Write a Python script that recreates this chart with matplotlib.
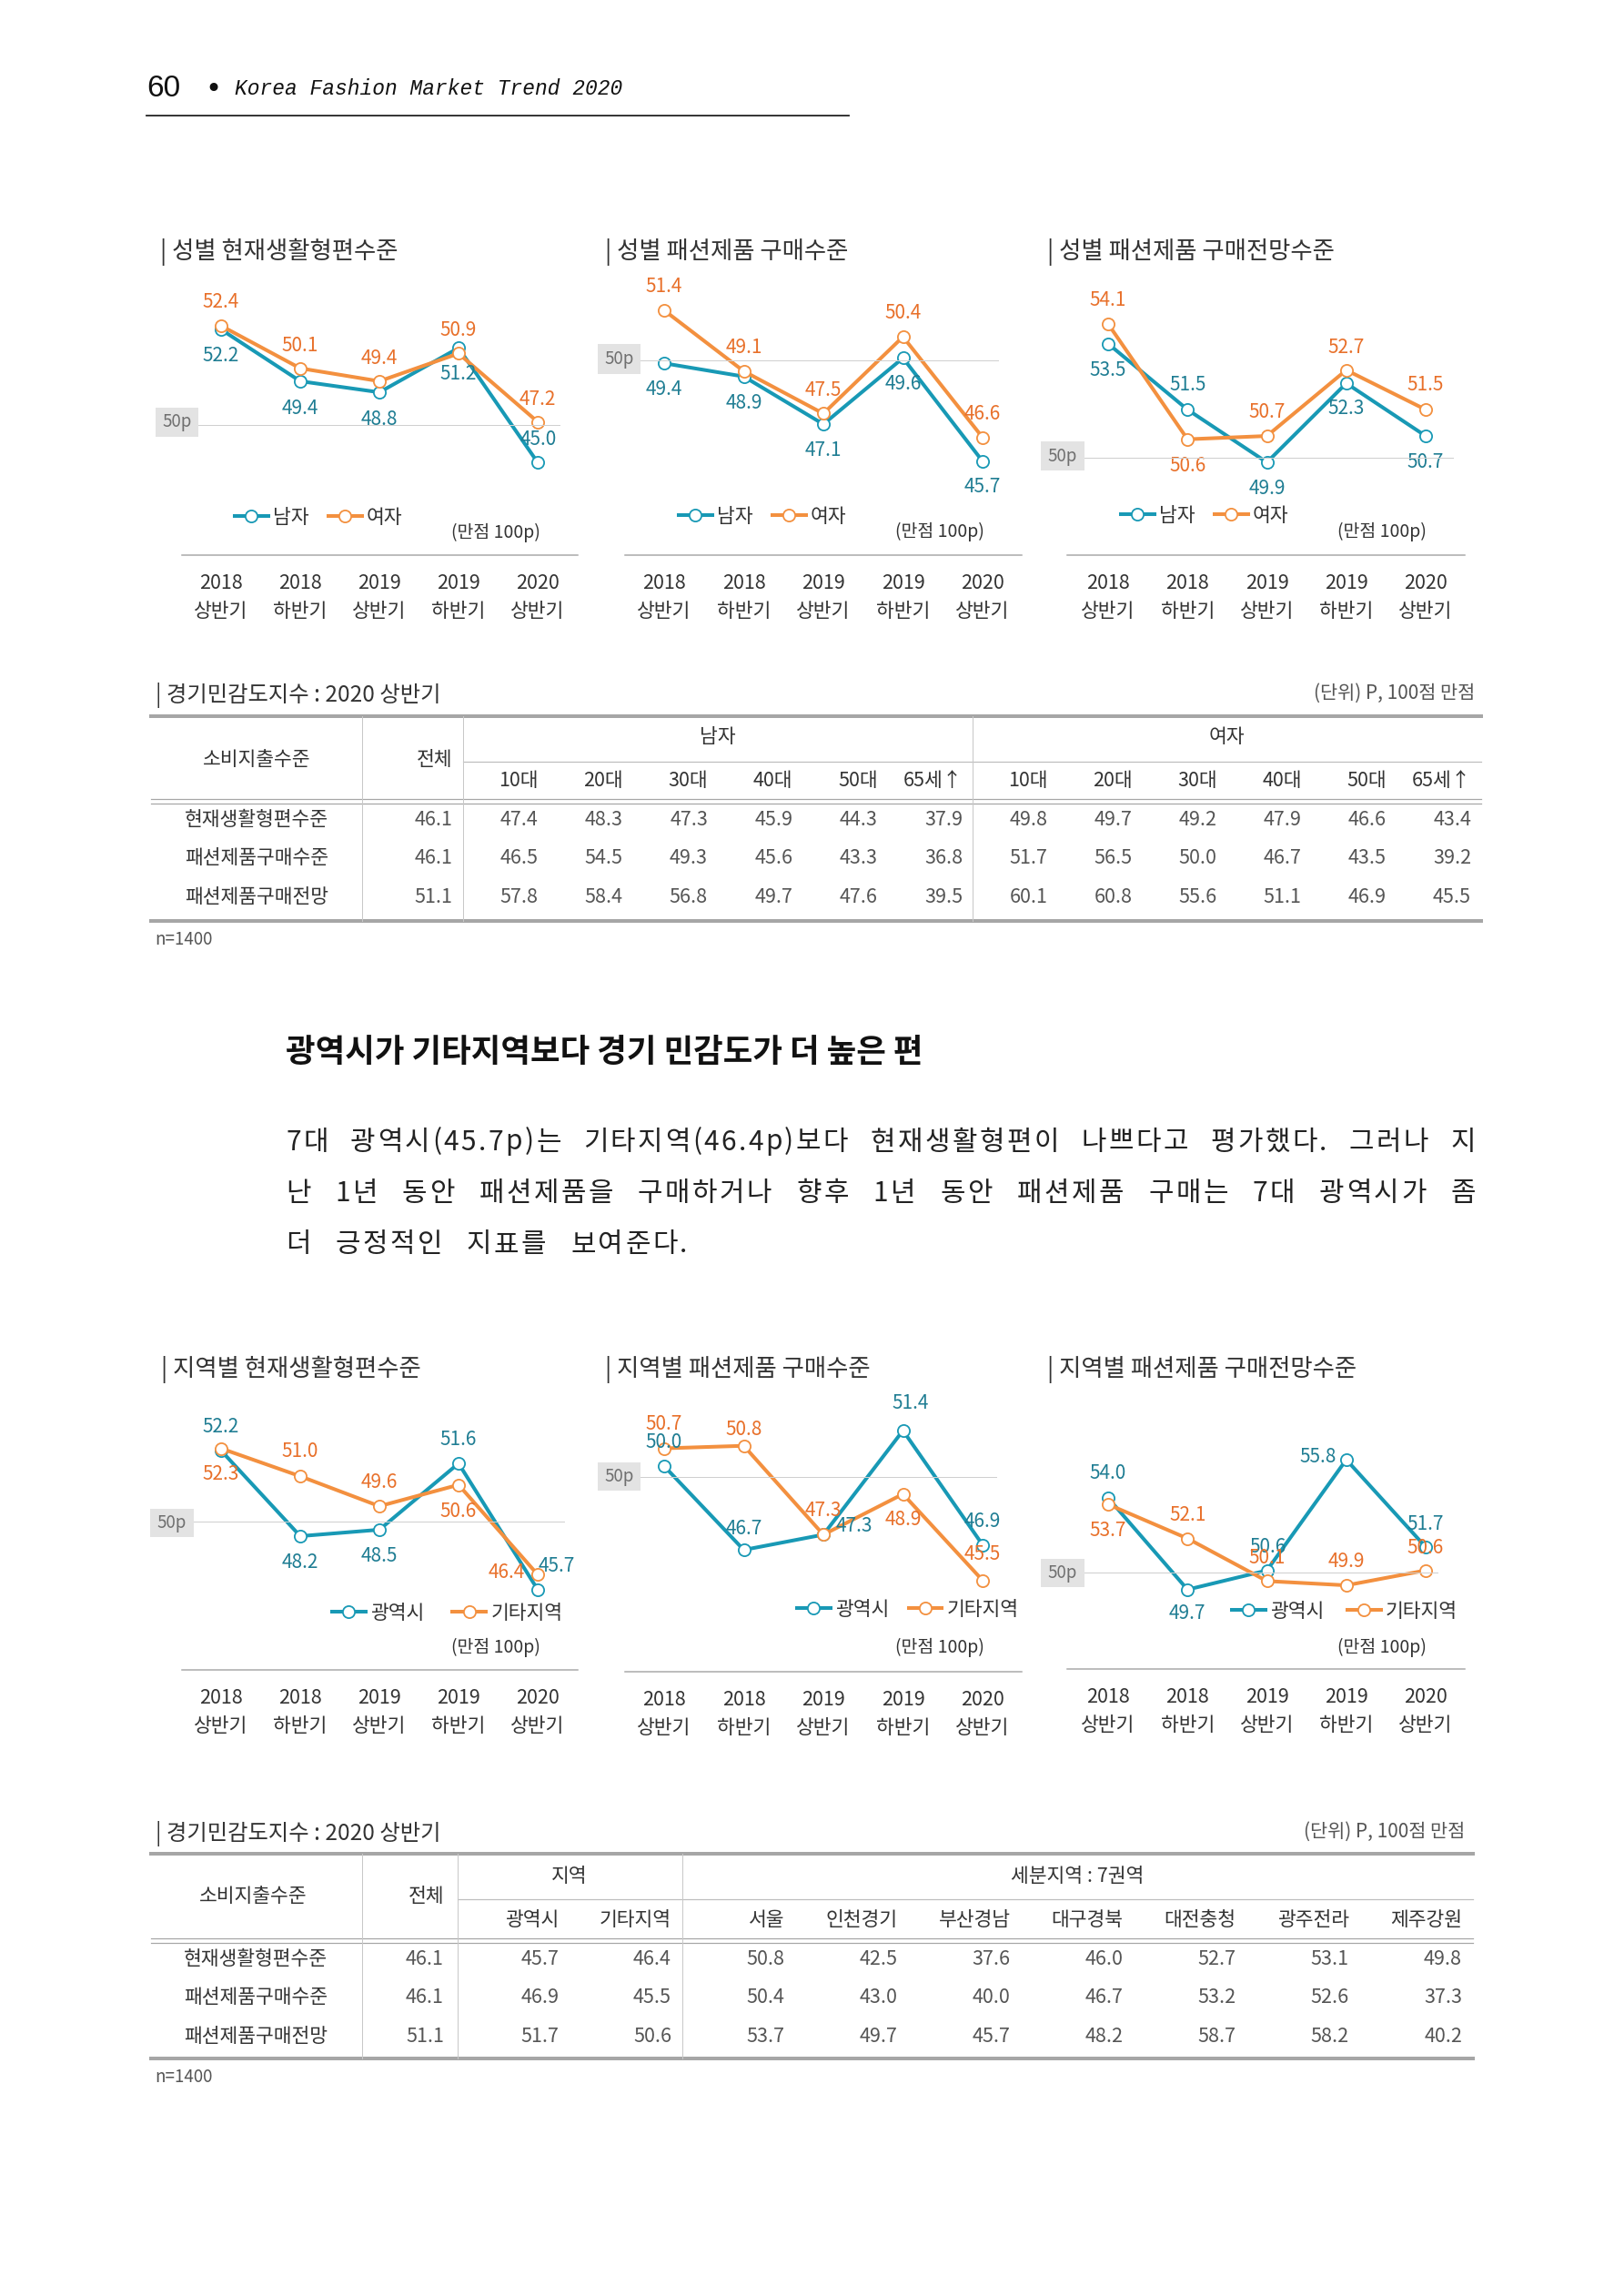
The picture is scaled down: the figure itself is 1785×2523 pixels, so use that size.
import matplotlib
matplotlib.use('Agg')
import matplotlib.pyplot as plt
from matplotlib.lines import Line2D
from matplotlib.patches import Rectangle
from matplotlib.font_manager import FontProperties
from matplotlib.transforms import blended_transform_factory

plt.rcParams['font.family'] = ['Noto Sans CJK KR', 'DejaVu Sans']

# --- data ---
periods_year = ['2018', '2018', '2019', '2019', '2020']
periods_half = ['상반기', '하반기', '상반기', '하반기', '상반기']
gender_names = ['남자', '여자']
region_names = ['광역시', '기타지역']

now_male = [52.2, 49.4, 48.8, 51.2, 45.0]
now_female = [52.4, 50.1, 49.4, 50.9, 47.2]
buy_male = [49.4, 48.9, 47.1, 49.6, 45.7]
buy_female = [51.4, 49.1, 47.5, 50.4, 46.6]
outlook_male = [53.5, 51.5, 49.9, 52.3, 50.7]
outlook_female = [54.1, 50.6, 50.7, 52.7, 51.5]

now_metro = [52.2, 48.2, 48.5, 51.6, 45.7]
now_other = [52.3, 51.0, 49.6, 50.6, 46.4]
buy_metro = [50.0, 46.7, 47.3, 51.4, 46.9]
buy_other = [50.7, 50.8, 47.3, 48.9, 45.5]
outlook_metro = [54.0, 49.7, 50.6, 55.8, 51.7]
outlook_other = [53.7, 52.1, 50.1, 49.9, 50.6]

row_labels = ['현재생활형편수준', '패션제품구매수준', '패션제품구매전망']
total_vals = [46.1, 46.1, 51.1]
age_groups = ['10대', '20대', '30대', '40대', '50대', '65세↑']
t1_male = [[47.4, 48.3, 47.3, 45.9, 44.3, 37.9],
           [46.5, 54.5, 49.3, 45.6, 43.3, 36.8],
           [57.8, 58.4, 56.8, 49.7, 47.6, 39.5]]
t1_female = [[49.8, 49.7, 49.2, 47.9, 46.6, 43.4],
             [51.7, 56.5, 50.0, 46.7, 43.5, 39.2],
             [60.1, 60.8, 55.6, 51.1, 46.9, 45.5]]
sub_regions = ['서울', '인천경기', '부산경남', '대구경북', '대전충청', '광주전라', '제주강원']
t2_region = [[45.7, 46.4], [46.9, 45.5], [51.7, 50.6]]
t2_sub = [[50.8, 42.5, 37.6, 46.0, 52.7, 53.1, 49.8],
          [50.4, 43.0, 40.0, 46.7, 53.2, 52.6, 37.3],
          [53.7, 49.7, 45.7, 48.2, 58.7, 58.2, 40.2]]

# --- page setup (pixel helpers) ---
W, H = 1785, 2523
fig = plt.figure(figsize=(W / 100, H / 100), dpi=100)
fig.patch.set_facecolor('white')

TEAL, ORANGE = '#1899b5', '#f3903f'
TEAL_TXT, ORANGE_TXT = '#1f7d93', '#e8702a'


def fx(x):
    return x / W


def fy(y):
    return 1 - y / H


def hline(x0, x1, y, lw=1.0, color='#a6a6a6'):
    fig.add_artist(Line2D([fx(x0), fx(x1)], [fy(y), fy(y)], transform=fig.transFigure,
                          lw=lw * 0.72, color=color))


def vline(x, y0, y1, lw=1.0, color='#c8c8c8'):
    fig.add_artist(Line2D([fx(x), fx(x)], [fy(y0), fy(y1)], transform=fig.transFigure,
                          lw=lw * 0.72, color=color))


def txt(x, y, s, size, ha='left', va='center', color='#333333', **kw):
    return fig.text(fx(x), fy(y), s, fontsize=size, ha=ha, va=va, color=color, **kw)


# --- page header ---
txt(161, 98, '60', 24, color='#111111', family='Liberation Sans')
txt(234, 98, '•', 22, ha='center', color='#111111', family='DejaVu Sans')
txt(258, 98, 'Korea Fashion Market Trend 2020', 16.5, color='#111111',
    family='Liberation Mono', style='italic')
hline(161, 933, 127, lw=1.8, color='#222222')


# --- line charts ---
def line_chart(title, title_xy, box, x0, step, anchor, scale, ref_box, ref_y,
               series, names, offsets, legend_xy, colspace, note_xy, divider):
    left, right, top, bottom = box
    ax = fig.add_axes([fx(left), fy(bottom), (right - left) / W, (bottom - top) / H])
    av, ap = anchor
    ax.set_xlim((left - x0) / step, (right - x0) / step)
    ax.set_ylim(av - (bottom - ap) / scale, av + (ap - top) / scale)
    ax.axis('off')

    # "50p" marker box and guide
    bx0, by0, bx1, by1 = ref_box
    fig.add_artist(Rectangle((fx(bx0), fy(by1)), (bx1 - bx0) / W, (by1 - by0) / H,
                             transform=fig.transFigure, facecolor='#e3e3e3', edgecolor='none'))
    txt((bx0 + bx1) / 2, (by0 + by1) / 2, '50p', 13.5, ha='center', color='#6f6f6f')
    hline(bx1, right, ref_y, lw=1.0, color='#cfcfcf')

    xs = list(range(len(series[0])))
    colors = [TEAL, ORANGE]
    tcolors = [TEAL_TXT, ORANGE_TXT]
    for vals, c, tc, offs in zip(series, colors, tcolors, offsets):
        ax.plot(xs, vals, color=c, lw=2.9, marker='o', ms=9.5, mfc='white', mec=c,
                mew=1.3, clip_on=False, solid_joinstyle='miter')
        for i, v in enumerate(vals):
            dx, dy = offs[i]
            ax.annotate(f'{v:.1f}', (i, v), xytext=(dx * 0.72, -dy * 0.72),
                        textcoords='offset points', ha='center', va='center',
                        fontsize=15, color=tc)

    tr = blended_transform_factory(ax.transData, fig.transFigure)
    for i in xs:
        ax.text(i, fy(divider[2] + 31), periods_year[i], transform=tr, ha='center',
                va='center', fontsize=15.5, color='#333333')
        ax.text(i, fy(divider[2] + 62), periods_half[i], transform=tr, ha='center',
                va='center', fontsize=15.5, color='#333333')
    hline(divider[0], divider[1], divider[2], lw=1.5, color='#a8a8a8')

    handles = [Line2D([], [], color=c, lw=2.9, marker='o', ms=9.5, mfc='white', mec=c, mew=1.3)
               for c in colors]
    fig.legend(handles, names, loc='center left', bbox_to_anchor=(fx(legend_xy[0]), fy(legend_xy[1])),
               bbox_transform=fig.transFigure, ncol=2, frameon=False, fontsize=15.5,
               handlelength=1.7, handletextpad=0.25, columnspacing=colspace,
               borderpad=0, borderaxespad=0, labelcolor='#333333')
    txt(note_xy[0], note_xy[1], '(만점 100p)', 14, ha='center', color='#333333')
    txt(title_xy[0], title_xy[1], title, 19, color='#333333')


line_chart('| 성별 현재생활형편수준', (176, 277), (218, 615, 300, 610), 243, 87, (52.4, 358), 20.3,
           (171, 448, 218, 480), 467, [now_male, now_female], gender_names,
           [[(0, 29), (0, 30), (0, 30), (0, 29), (1, -25)],
            [(0, -26), (0, -25), (0, -25), (0, -25), (0, -25)]],
           (258, 569), 1.0, (545, 585), (200, 635, 610))
line_chart('| 성별 패션제품 구매수준', (665, 277), (704, 1097, 300, 610), 730, 87.5, (51.4, 341), 29.1,
           (657, 378, 704, 411), 396, [buy_male, buy_female], gender_names,
           [[(0, 29), (0, 29), (0, 29), (0, 29), (0, 28)],
            [(0, -26), (0, -26), (0, -25), (0, -26), (0, -26)]],
           (746, 568), 1.0, (1033, 584), (687, 1123, 610))
line_chart('| 성별 패션제품 구매전망수준', (1151, 277), (1192, 1597, 300, 610), 1218, 87.25, (54.1, 356), 36.2,
           (1144, 485, 1192, 517), 503, [outlook_male, outlook_female], gender_names,
           [[(0, 29), (0, -27), (0, 29), (0, 28), (0, 29)],
            [(0, -26), (0, 29), (0, -26), (0, -25), (0, -27)]],
           (1232, 567), 1.0, (1519, 584), (1173, 1610, 610))

line_chart('| 지역별 현재생활형편수준', (177, 1505), (213, 620, 1530, 1835), 243, 87, (52.2, 1594), 23.5,
           (165, 1658, 213, 1689), 1672, [now_metro, now_other], region_names,
           [[(0, -26), (0, 29), (0, 29), (0, -26), (21, -26)],
            [(0, 28), (0, -27), (0, -26), (0, 29), (-34, -2)]],
           (365, 1773), 1.45, (545, 1810), (200, 635, 1835))
line_chart('| 지역별 패션제품 구매수준', (665, 1505), (704, 1095, 1530, 1837), 730, 87.5, (51.4, 1572), 27.9,
           (657, 1607, 704, 1638), 1623, [buy_metro, buy_other], region_names,
           [[(0, -26), (0, -23), (34, -9), (8, -30), (0, -26)],
            [(0, -27), (0, -18), (0, -26), (0, 28), (0, -29)]],
           (876, 1769), 1.0, (1033, 1810), (687, 1123, 1837))
line_chart('| 지역별 패션제품 구매전망수준', (1151, 1505), (1192, 1580, 1530, 1834), 1218, 87.25, (55.8, 1604), 23.4,
           (1144, 1713, 1192, 1744), 1728, [outlook_metro, outlook_other], region_names,
           [[(0, -27), (0, 26), (1, -26), (-31, -3), (0, -25)],
            [(0, 29), (0, -26), (0, -25), (0, -26), (0, -25)]],
           (1354, 1771), 1.2, (1519, 1810), (1173, 1610, 1834))


# --- tables ---
def table_frame(top, sub_y, dbl_y, bottom, left, right, vxs, sub_from):
    hline(left, right, top, lw=4, color='#a6a6a6')
    hline(sub_from, right, sub_y, lw=1.2, color='#bdbdbd')
    hline(left, right, dbl_y, lw=1.2, color='#a6a6a6')
    hline(left, right, dbl_y + 5, lw=1.2, color='#a6a6a6')
    hline(left, right, bottom, lw=4, color='#a6a6a6')
    for x in vxs:
        vline(x, top, bottom)


TS = 15.5
NS = 15.5
# table 1: by gender / age
txt(171, 764, '| 경기민감도지수 : 2020 상반기', 17.5)
txt(1621, 762, '(단위) P, 100점 만점', 15, ha='right', color='#555555')
table_frame(787, 837, 878, 1012, 166, 1628, (398, 509, 1069), 509)
txt(282, 835, '소비지출수준', TS, ha='center')
txt(497, 835, '전체', TS, ha='right')
txt(789, 810, '남자', TS, ha='center')
txt(1348, 810, '여자', TS, ha='center')
row_y1 = [901, 943, 986]
male_w, female_w = (1069 - 509) / 6, (1628 - 1069) / 6
for i, a in enumerate(age_groups):
    txt(509 + (i + 1) * male_w - 11, 858, a, TS, ha='right')
    txt(1069 + (i + 1) * female_w - 11, 858, a, TS, ha='right')
for r, y in enumerate(row_y1):
    txt(282, y, row_labels[r], TS, ha='center')
    txt(497, y, f'{total_vals[r]:.1f}', NS, ha='right', color='#555555')
    for i in range(6):
        txt(509 + (i + 1) * male_w - 11, y, f'{t1_male[r][i]:.1f}', NS, ha='right', color='#555555')
        txt(1069 + (i + 1) * female_w - 11, y, f'{t1_female[r][i]:.1f}', NS, ha='right', color='#555555')
txt(170, 1032, 'n=1400', 13.5, color='#555555')

# table 2: by region
txt(171, 2015, '| 경기민감도지수 : 2020 상반기', 17.5)
txt(1610, 2013, '(단위) P, 100점 만점', 15, ha='right', color='#555555')
table_frame(2037, 2087, 2130, 2262, 166, 1619, (398, 503, 750), 503)
txt(278, 2084, '소비지출수준', TS, ha='center')
txt(488, 2084, '전체', TS, ha='right')
txt(626, 2062, '지역', TS, ha='center')
txt(1184, 2062, '세분지역 : 7권역', TS, ha='center')
reg_w, sub_w = (750 - 503) / 2, (1619 - 750) / 7
for i, n in enumerate(region_names):
    txt(503 + (i + 1) * reg_w - 12, 2110, n, TS, ha='right')
for i, n in enumerate(sub_regions):
    txt(750 + (i + 1) * sub_w - 12, 2110, n, TS, ha='right')
row_y2 = [2153, 2195, 2238]
for r, y in enumerate(row_y2):
    txt(281, y, row_labels[r], TS, ha='center')
    txt(488, y, f'{total_vals[r]:.1f}', NS, ha='right', color='#555555')
    for i in range(2):
        txt(503 + (i + 1) * reg_w - 12, y, f'{t2_region[r][i]:.1f}', NS, ha='right', color='#555555')
    for i in range(7):
        txt(750 + (i + 1) * sub_w - 12, y, f'{t2_sub[r][i]:.1f}', NS, ha='right', color='#555555')
txt(170, 2283, 'n=1400', 13.5, color='#555555')

# --- heading and body text ---
txt(314, 1156, '광역시가 기타지역보다 경기 민감도가 더 높은 편', 25.5, color='#111111', weight='bold')

body_lines = ['7대 광역시(45.7p)는 기타지역(46.4p)보다 현재생활형편이 나쁘다고 평가했다. 그러나 지',
              '난 1년 동안 패션제품을 구매하거나 향후 1년 동안 패션제품 구매는 7대 광역시가 좀',
              '더 긍정적인 지표를 보여준다.']
body_y = [1255, 1311, 1368]
BODY_SIZE, TRACK = 21.5, 2.5
renderer = fig.canvas.get_renderer()
body_fp = FontProperties(family=['Noto Sans CJK KR', 'DejaVu Sans'], size=BODY_SIZE)


def ink_width(s):
    return renderer.get_text_width_height_descent(s, body_fp, ismath=False)[0]


gap = None
for k, (line, y) in enumerate(zip(body_lines, body_y)):
    words = line.split(' ')
    widths = [ink_width(w) + TRACK * (len(w) - 1) for w in words]
    if k < 2:
        gap = (1622 - 314 - sum(widths)) / (len(words) - 1)
    x = 314
    for w, ww in zip(words, widths):
        # lay out each character with a little extra tracking, like the printed page
        for i, ch in enumerate(w):
            cx = x + ink_width(w[:i + 1]) - ink_width(ch) + TRACK * i
            txt(cx, y, ch, BODY_SIZE, color='#222222')
        x += ww + gap

fig.savefig('out.png', dpi=100, facecolor='white')
